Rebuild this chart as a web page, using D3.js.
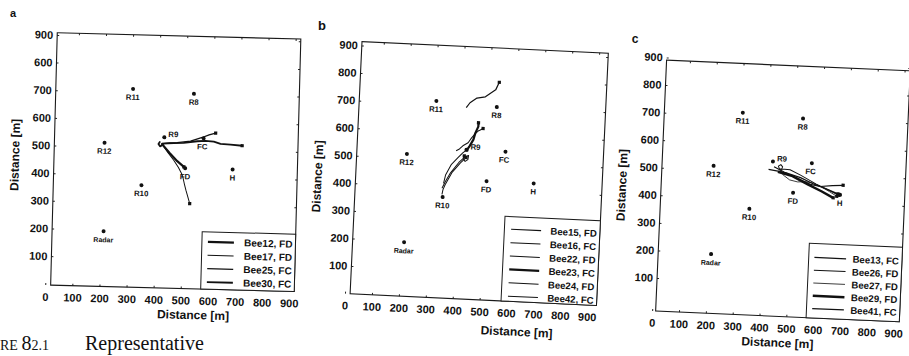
<!DOCTYPE html>
<html>
<head>
<meta charset="utf-8">
<script src="https://cdn.jsdelivr.net/npm/d3@7"></script>
<style>
  body { margin: 0; background: #fff; }
  svg { display: block; }
  text { font-family: "Liberation Sans", Arial, sans-serif; fill: #111; }
</style>
</head>
<body>
<svg id="fig" width="909" height="356"></svg>
<script>
// landmarks on the field (metres)
const siteNames = ["R11", "R8", "R9", "R12", "R10", "Radar", "FC", "FD", "H"];
const siteX = [305, 530, 425, 205, 345, 210, 570, 505, 680];
const siteY = [712, 700, 540, 515, 365, 195, 540, 430, 430];

const xTickValues = [0, 100, 200, 300, 400, 500, 600, 700, 800, 900];
const yTickValues = [100, 200, 300, 400, 500, 600, 700, 800, 900];
const yTickLabelsA = ["100", "200", "300", "400", "500", "600", "700", "600", "900"];
const yTickLabelsBC = ["100", "200", "300", "400", "500", "600", "700", "800", "900"];

// panel a
const beesA = ["Bee12, FD", "Bee17, FD", "Bee25, FC", "Bee30, FC"];
const tracksAx = [
  [415, 445, 475, 500],
  [420, 440, 462, 480, 492, 497, 503, 510, 518, 525],
  [418, 445, 473, 522, 565, 590, 614],
  [410, 404, 410, 420, 418, 460, 497, 547, 577, 608, 633, 670, 713]
];
const tracksAy = [
  [518, 485, 455, 435],
  [512, 485, 458, 432, 411, 399, 375, 350, 325, 303],
  [517, 520, 522, 529, 543, 553, 560],
  [525, 515, 507, 512, 517, 520, 522, 529, 531, 529, 522, 520, 517]
];

// panel b
const beesB = ["Bee15, FD", "Bee16, FC", "Bee22, FD", "Bee23, FC", "Bee24, FD", "Bee42, FC"];
const tracksBx = [
  [417, 430, 455, 486, 523, 535],
  [341, 352, 368, 399, 424, 434, 432, 422, 414, 418],
  [346, 352, 372, 395, 412, 426],
  [426, 436, 449, 455, 465, 465],
  [387, 399, 411, 430, 442, 455, 465, 473, 483],
  [342, 345, 352, 375, 405, 425]
];
const tracksBy = [
  [693, 711, 729, 735, 762, 790],
  [397, 421, 451, 493, 517, 520, 505, 498, 508, 518],
  [415, 445, 485, 510, 528, 540],
  [538, 554, 578, 602, 626, 640],
  [535, 542, 554, 566, 584, 600, 610, 614, 620],
  [375, 392, 410, 455, 492, 512]
];

// panel c
const beesC = ["Bee13, FC", "Bee26, FD", "Bee27, FD", "Bee29, FD", "Bee41, FC"];
const tracksCx = [
  [410, 445, 480, 530, 568, 605, 650, 690],
  [448, 458, 462, 455, 446, 450, 490, 530, 590, 640, 675],
  [455, 465, 490, 520, 550, 580, 610, 640, 668],
  [445, 500, 560, 610, 655],
  [430, 470, 530, 580, 625, 672]
];
const tracksCy = [
  [511, 506, 499, 478, 463, 457, 462, 465],
  [510, 512, 522, 530, 524, 515, 513, 495, 465, 444, 428],
  [510, 493, 476, 470, 472, 468, 455, 440, 424],
  [503, 490, 462, 440, 418],
  [521, 503, 486, 465, 450, 433]
];

// layout (pixels)
const panels = [
  { letter: "a", letterPos: [13, 13], letterSize: 11,
    xPx: [48.5, 0.271], yPx: [287, 0.2766], xDom: [20, 919], yDom: [-5, 908], rot: 1.5,
    xTitle: [197, 314.6], yTitle: [15, 159],
    yLabels: yTickLabelsA, bees: beesA, tx: tracksAx, ty: tracksAy,
    widths: [2.2, 1, 1.3, 1.8],
    legend: { x0: 204, y0: 231, top: 10, gap: 13.4, line: [6, 32], fs: 10 } },
  { letter: "b", letterPos: [322, 25], letterSize: 13,
    xPx: [350.8, 0.2695], yPx: [299.5, 0.276], xDom: [19, 934], yDom: [-1, 914], rot: 2.7,
    xTitle: [524, 330], yTitle: [318, 184],
    yLabels: yTickLabelsBC, bees: beesB, tx: tracksBx, ty: tracksBy,
    widths: [1.2, 1, 1, 2.2, 1, 1],
    legend: { x0: 507, y0: 215, top: 12.7, gap: 13.4, line: [6.7, 36.7], fs: 9.6 } },
  { letter: "c", letterPos: [635, 39], letterSize: 12,
    xPx: [657.5, 0.2686], yPx: [311, 0.276], xDom: [13, 921], yDom: [-20, 890], rot: 2.5,
    xTitle: [784, 343], yTitle: [622, 192],
    yLabels: yTickLabelsBC, bees: beesC, tx: tracksCx, ty: tracksCy,
    widths: [1.2, 1, 0.8, 2.4, 1.2],
    legend: { x0: 811.6, y0: 242, top: 14, gap: 12.8, line: [5.7, 37.4], fs: 9.6 } }
];

const labelOffset = { R9: [9, -3], FC: [-1, 8.5] };

const svg = d3.select("#fig");

panels.forEach(p => {
  const x = d3.scaleLinear().domain([0, 900]).range([p.xPx[0], p.xPx[0] + 900 * p.xPx[1]]);
  const y = d3.scaleLinear().domain([0, 900]).range([p.yPx[0], p.yPx[0] - 900 * p.yPx[1]]);
  const left = x(p.xDom[0]), right = x(p.xDom[1]);
  const top = y(p.yDom[1]), bottom = y(p.yDom[0]);
  const cx = (left + right) / 2, cy = (top + bottom) / 2;

  const g = svg.append("g").attr("transform", `rotate(${p.rot},${cx},${cy})`);

  // axes with inward ticks
  const xAxis = g.append("g").attr("transform", `translate(0,${bottom})`)
    .call(d3.axisBottom(x).tickValues(xTickValues).tickSizeInner(-2).tickSizeOuter(0).tickPadding(8));
  const yAxis = g.append("g").attr("transform", `translate(${left},0)`)
    .call(d3.axisLeft(y).tickValues(yTickValues).tickFormat((d, i) => p.yLabels[i])
      .tickSizeInner(-2).tickSizeOuter(0).tickPadding(4));
  g.append("g").attr("transform", `translate(0,${top})`)
    .call(d3.axisTop(x).tickValues(xTickValues.slice(1)).tickFormat("").tickSizeInner(-2).tickSizeOuter(0));
  g.append("g").attr("transform", `translate(${right},0)`)
    .call(d3.axisRight(y).tickValues(yTickValues).tickFormat("").tickSizeInner(-2).tickSizeOuter(0));
  g.selectAll(".domain").remove();
  g.selectAll(".tick line").attr("stroke", "#222");
  [xAxis, yAxis].forEach(a => a.selectAll("text")
    .attr("font-family", "Liberation Sans, Arial, sans-serif")
    .attr("font-weight", "bold").attr("font-size", 11).attr("fill", "#111"));

  g.append("rect")
    .attr("x", left).attr("y", top).attr("width", right - left).attr("height", bottom - top)
    .attr("fill", "none").attr("stroke", "#1a1a1a").attr("stroke-width", 1.1);

  // titles
  g.append("text").attr("x", p.xTitle[0]).attr("y", p.xTitle[1])
    .attr("text-anchor", "middle").attr("dominant-baseline", "central")
    .attr("font-weight", "bold").attr("font-size", 12).text("Distance [m]");
  g.append("text").attr("transform", `translate(${p.yTitle[0]},${p.yTitle[1]}) rotate(-90)`)
    .attr("text-anchor", "middle").attr("dominant-baseline", "central")
    .attr("font-weight", "bold").attr("font-size", 12).text("Distance [m]");

  // landmarks
  siteNames.forEach((name, i) => {
    const off = labelOffset[name] || [0, 8.5];
    g.append("circle").attr("cx", x(siteX[i])).attr("cy", y(siteY[i])).attr("r", 2).attr("fill", "#111");
    g.append("text").attr("x", x(siteX[i]) + off[0]).attr("y", y(siteY[i]) + off[1])
      .attr("text-anchor", "middle").attr("dominant-baseline", "central")
      .attr("font-weight", "bold").attr("font-size", name === "Radar" ? 7 : 7.8).text(name);
  });

  // tracks
  const line = d3.line().x(d => x(d[0])).y(d => y(d[1]));
  p.bees.forEach((b, i) => {
    const pts = p.tx[i].map((v, j) => [v, p.ty[i][j]]);
    g.append("path").attr("d", line(pts)).attr("fill", "none")
      .attr("stroke", "#111").attr("stroke-width", p.widths[i]).attr("stroke-linejoin", "round");
    const last = pts[pts.length - 1];
    g.append("rect").attr("x", x(last[0]) - 1.6).attr("y", y(last[1]) - 1.6)
      .attr("width", 3.2).attr("height", 3.2).attr("fill", "#111");
  });

  // legend
  const L = p.legend;
  const lg = g.append("g");
  lg.append("rect").attr("x", L.x0).attr("y", L.y0).attr("width", right - L.x0).attr("height", bottom - L.y0)
    .attr("fill", "#fff").attr("stroke", "#1a1a1a").attr("stroke-width", 1);
  p.bees.forEach((b, i) => {
    const ry = L.y0 + L.top + i * L.gap;
    lg.append("line").attr("x1", L.x0 + L.line[0]).attr("x2", L.x0 + L.line[1])
      .attr("y1", ry).attr("y2", ry).attr("stroke", "#111").attr("stroke-width", p.widths[i]);
    lg.append("text").attr("x", right - 3).attr("y", ry).attr("text-anchor", "end")
      .attr("dominant-baseline", "central").attr("font-weight", "bold").attr("font-size", L.fs).text(b);
  });

  svg.append("text").attr("x", p.letterPos[0]).attr("y", p.letterPos[1])
    .attr("text-anchor", "middle").attr("dominant-baseline", "central")
    .attr("font-weight", "bold").attr("font-size", p.letterSize).text(p.letter);
});

// caption at the bottom edge
const cap = svg.append("text").attr("x", 0).attr("y", 350)
  .style("font-family", "Liberation Serif, serif").attr("font-size", 20);
cap.append("tspan").attr("font-size", 14).text("RE ");
cap.append("tspan").attr("font-size", 20).text("8");
cap.append("tspan").attr("font-size", 14).text("2.1");
cap.append("tspan").attr("x", 85).text("Representative");
</script>
</body>
</html>
